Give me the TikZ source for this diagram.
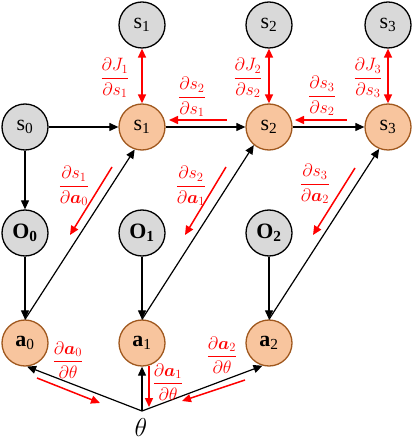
\RequirePackage{fix-cm}
\documentclass[tikz,border=0pt]{standalone}
\usepackage{amsmath}
\usepackage{fontspec}
\setmainfont{Liberation Serif}
\usetikzlibrary{arrows.meta}
\definecolor{orfill}{HTML}{F8C59E}
\definecolor{ordraw}{HTML}{A0581E}
\definecolor{grfill}{HTML}{D9D9D9}
\definecolor{myred}{HTML}{FF0000}
\tikzset{
  base/.style={circle, minimum size=46bp, inner sep=0pt, line width=1.3bp, font=\fontsize{22}{24}\selectfont},
  obs/.style={base, draw=black, fill=grfill},
  lat/.style={base, draw=ordraw, fill=orfill},
  link/.style={line width=1.2bp, -{Triangle[length=9bp,width=8bp]}},
  grad/.style={line width=1.5bp, myred, -{Triangle[length=9bp,width=8bp]}},
  grad2/.style={line width=1.5bp, myred, {Triangle[length=9bp,width=8bp]}-{Triangle[length=9bp,width=8bp]}},
  lbl/.style={text=myred, inner sep=0pt, font=\fontsize{18}{20}\selectfont},
}
\begin{document}
\begin{tikzpicture}[x=1bp,y=-1bp]
\useasboundingbox (0,0) rectangle (412,445);
% top row
\node[obs] (t1) at (142,25) {s\textsubscript{1}};
\node[obs] (t2) at (269,25) {s\textsubscript{2}};
\node[obs] (t3) at (388,25) {s\textsubscript{3}};
% state row
\node[obs] (s0) at (25,127) {s\textsubscript{0}};
\node[lat] (s1) at (142,127) {s\textsubscript{1}};
\node[lat] (s2) at (269,127) {s\textsubscript{2}};
\node[lat] (s3) at (388,127) {s\textsubscript{3}};
% observation row
\node[obs] (o0) at (25,233) {\textbf{O\textsubscript{0}}};
\node[obs] (o1) at (142,233) {\textbf{O\textsubscript{1}}};
\node[obs] (o2) at (269,233) {\textbf{O\textsubscript{2}}};
% action row
\node[lat] (a0) at (25,343) {\textbf{a}\textsubscript{0}};
\node[lat] (a1) at (142,343) {\textbf{a}\textsubscript{1}};
\node[lat] (a2) at (269,343) {\textbf{a}\textsubscript{2}};
% theta
\coordinate (th) at (142,411);
\node[inner sep=0pt, font=\fontsize{26}{28}\selectfont] (thl) at (141,428) {$\theta$};

% black links
\draw[link] (s0) -- (s1);
\draw[link] (s0) -- (o0);
\draw[link] (s1) -- (s2);
\draw[link] (s2) -- (s3);
\draw[link] (o0) -- (a0);
\draw[link] (o1) -- (a1);
\draw[link] (o2) -- (a2);
\draw[link] (a0.north) -- (s1.-108);
\draw[link] (a1.north) -- (s2.-130);
\draw[link] (a2.north) -- (s3.-112);
\draw[link] (th) -- (a0.-85);
\draw[link] (th) -- (a1);
\draw[link] (th) -- (a2.-106);

% red gradient arrows
\draw[grad2] (t1) -- (s1);
\draw[grad2] (t2) -- (s2);
\draw[grad2] (t3) -- (s3);

\coordinate (h1a) at (227,120); \coordinate (h1b) at (169,120);
\coordinate (h2a) at (347,120); \coordinate (h2b) at (295,120);
\draw[grad] (h1a) -- (h1b);
\draw[grad] (h2a) -- (h2b);

\coordinate (r1a) at (112,167); \coordinate (r1b) at (70,235);
\coordinate (r2a) at (226,167); \coordinate (r2b) at (185,235);
\coordinate (r3a) at (355,168); \coordinate (r3b) at (313,235);
\draw[grad] (r1a) -- (r1b);
\draw[grad] (r2a) -- (r2b);
\draw[grad] (r3a) -- (r3b);

\coordinate (q0a) at (37,378); \coordinate (q0b) at (100,403);
\coordinate (q1a) at (149,366); \coordinate (q1b) at (149,407);
\coordinate (q2a) at (245,380); \coordinate (q2b) at (182,401);
\draw[grad] (q0a) -- (q0b);
\draw[grad] (q1a) -- (q1b);
\draw[grad] (q2a) -- (q2b);

% labels
\node[lbl] (lj1) at (115,78) {$\dfrac{\partial J_1}{\partial s_1}$};
\node[lbl] (lj2) at (248,78) {$\dfrac{\partial J_2}{\partial s_2}$};
\node[lbl] (lj3) at (368,78) {$\dfrac{\partial J_3}{\partial s_3}$};
\node[lbl] (l21) at (192,97) {$\dfrac{\partial s_2}{\partial s_1}$};
\node[lbl] (l32) at (322,96) {$\dfrac{\partial s_3}{\partial s_2}$};
\node[lbl] (la0) at (74,186) {$\dfrac{\partial s_1}{\partial \boldsymbol{a}_0}$};
\node[lbl] (la1) at (191,186) {$\dfrac{\partial s_2}{\partial \boldsymbol{a}_1}$};
\node[lbl] (la2) at (315,184) {$\dfrac{\partial s_3}{\partial \boldsymbol{a}_2}$};
\node[lbl] (lt0) at (68,360) {$\dfrac{\partial \boldsymbol{a}_0}{\partial \theta}$};
\node[lbl] (lt1) at (168,382) {$\dfrac{\partial \boldsymbol{a}_1}{\partial \theta}$};
\node[lbl] (lt2) at (222,355) {$\dfrac{\partial \boldsymbol{a}_2}{\partial \theta}$};
\end{tikzpicture}
\end{document}
